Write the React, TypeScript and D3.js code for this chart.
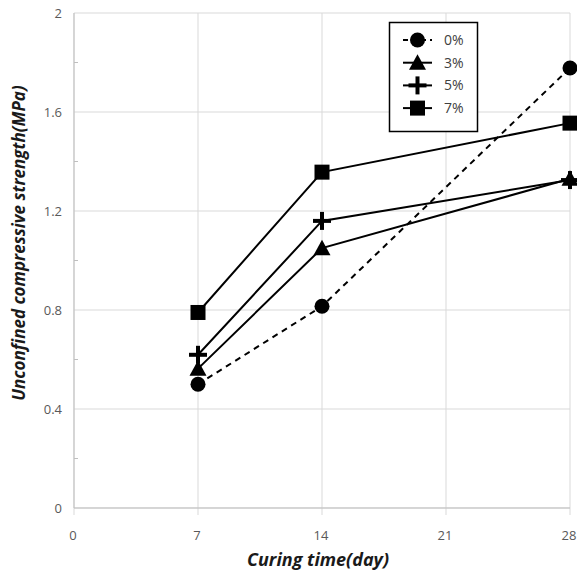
import React from "react";
import * as d3 from "d3";

const days = [7, 14, 28];
const seriesNames = ["0%", "3%", "5%", "7%"];
const s0 = [0.5, 0.815, 1.778];
const s3 = [0.563, 1.05, 1.33];
const s5 = [0.619, 1.16, 1.325];
const s7 = [0.79, 1.357, 1.555];
const xTicks = [0, 7, 14, 21, 28];
const yTicks = [0, 0.4, 0.8, 1.2, 1.6, 2];
const yMinor = [0.2, 0.6, 1.0, 1.4, 1.8];

const W = 577, H = 573;
const x = d3.scaleLinear().domain([0, 28]).range([74, 570]);
const y = d3.scaleLinear().domain([0, 2]).range([508, 13]);

const seriesVals = [s0, s3, s5, s7];
const markers = ["circle", "triangle", "plus", "square"];
const dashed = [true, false, false, false];

function Marker({ type, cx, cy }: { type: string; cx: number; cy: number }) {
  if (type === "circle") return <circle cx={cx} cy={cy} r={7.5} fill="#000" />;
  if (type === "square") return <rect x={cx - 7.5} y={cy - 7.5} width={15} height={15} fill="#000" />;
  if (type === "triangle")
    return <path d={`M${cx},${cy - 8.5} L${cx + 8.5},${cy + 7} L${cx - 8.5},${cy + 7} Z`} fill="#000" />;
  return (
    <g stroke="#000" strokeWidth={4}>
      <line x1={cx - 9} x2={cx + 9} y1={cy} y2={cy} />
      <line x1={cx} x2={cx} y1={cy - 9} y2={cy + 9} />
    </g>
  );
}

export default function App() {
  const line = d3
    .line<number>()
    .x((_, i) => x(days[i]))
    .y((d) => y(d));
  const font = "'Open Sans', 'Liberation Sans', sans-serif";
  return (
    <svg width={W} height={H} style={{ position: "absolute", left: 0, top: 0 }} fontFamily={font}>
      <rect width={W} height={H} fill="#fff" />
      {/* grid */}
      {yTicks.map((t) => (
        <line key={"gy" + t} x1={x(0)} x2={x(28)} y1={y(t)} y2={y(t)} stroke="#d9d9d9" strokeWidth={1} />
      ))}
      {xTicks.map((t) => (
        <line key={"gx" + t} x1={x(t)} x2={x(t)} y1={y(2)} y2={y(0) + 7} stroke="#d9d9d9" strokeWidth={1} />
      ))}
      {yMinor.map((t) => (
        <line key={"my" + t} x1={x(0)} x2={x(0) + 4} y1={y(t)} y2={y(t)} stroke="#bfbfbf" strokeWidth={1} />
      ))}
      <line x1={x(0)} x2={x(0)} y1={y(2)} y2={y(0)} stroke="#bfbfbf" />
      <line x1={x(0)} x2={x(28)} y1={y(0)} y2={y(0)} stroke="#bfbfbf" />
      {/* tick labels */}
      {yTicks.map((t) => (
        <text key={"ly" + t} x={62} y={y(t)} dy="0.35em" textAnchor="end" fontSize={13} fill="#595959">
          {t === 0 ? "0" : d3.format("~g")(t)}
        </text>
      ))}
      {xTicks.map((t) => (
        <text key={"lx" + t} x={x(t) - 1} y={540} textAnchor="middle" fontSize={13} fill="#595959">
          {t}
        </text>
      ))}
      {/* axis titles */}
      <text x={318} y={566} textAnchor="middle" fontSize={18} fontWeight="bold" fontStyle="italic" fill="#1a1a1a">
        Curing time(day)
      </text>
      <text
        transform={`translate(25,243) rotate(-90)`}
        textAnchor="middle"
        fontSize={17}
        fontWeight="bold"
        fontStyle="italic"
        fill="#1a1a1a"
      >
        Unconfined compressive strength(MPa)
      </text>
      {/* series */}
      {seriesVals.map((vals, si) => (
        <g key={"s" + si}>
          <path
            d={line(vals) || ""}
            fill="none"
            stroke="#000"
            strokeWidth={2}
            strokeDasharray={dashed[si] ? "6,5" : undefined}
          />
          {vals.map((v, i) => (
            <Marker key={i} type={markers[si]} cx={x(days[i])} cy={y(v)} />
          ))}
        </g>
      ))}
      {/* legend */}
      <g>
        <rect x={389.5} y={22.5} width={88} height={109} fill="#fff" stroke="#000" strokeWidth={1.5} />
        {seriesNames.map((n, i) => {
          const cy = 40 + i * 22.7;
          return (
            <g key={n}>
              <line
                x1={403}
                x2={432}
                y1={cy}
                y2={cy}
                stroke="#000"
                strokeWidth={2}
                strokeDasharray={dashed[i] ? "5,4" : undefined}
              />
              <Marker type={markers[i]} cx={417.5} cy={cy} />
              <text x={444} y={cy} dy="0.35em" fontSize={14} fill="#404040">
                {n}
              </text>
            </g>
          );
        })}
      </g>
    </svg>
  );
}
